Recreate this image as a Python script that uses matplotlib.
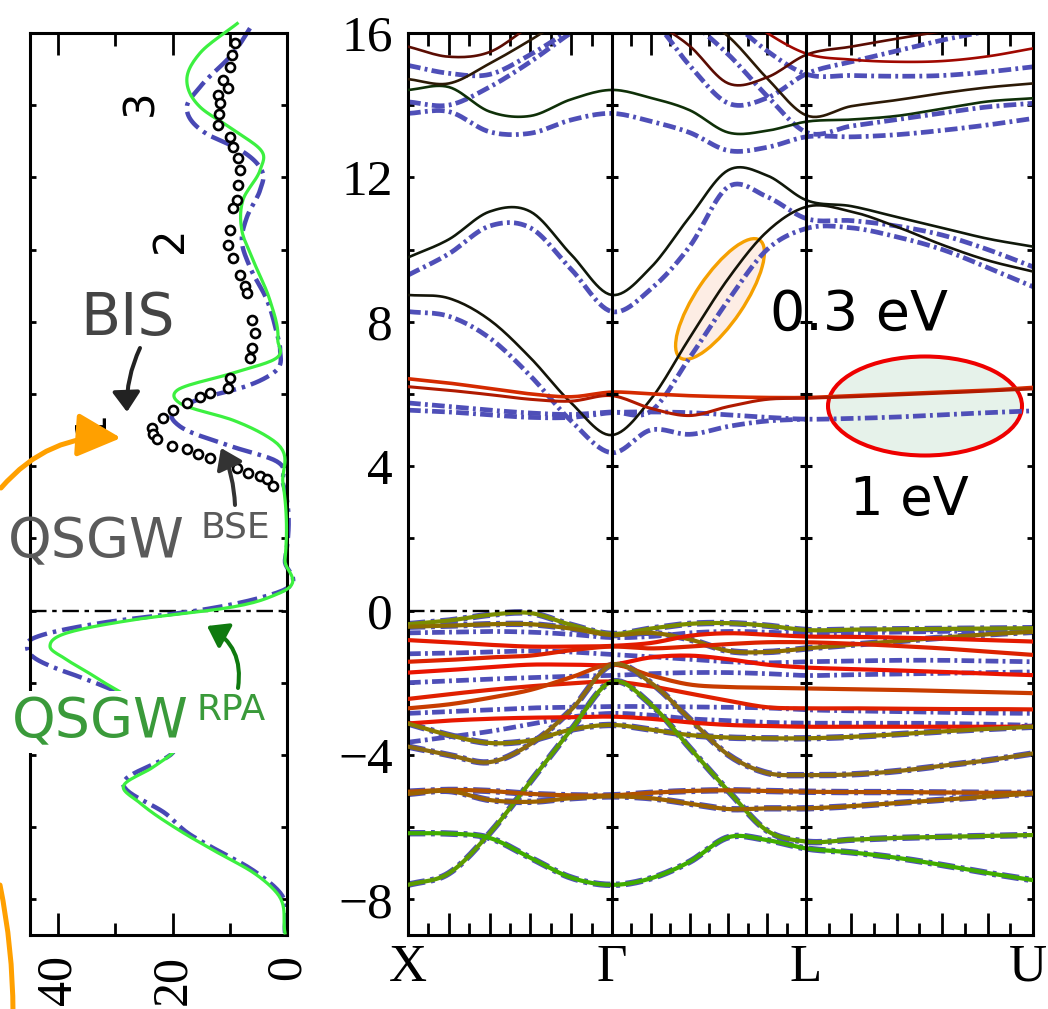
import numpy as np
import matplotlib
matplotlib.use("Agg")
import matplotlib.pyplot as plt
from matplotlib.patches import Ellipse, FancyArrowPatch
from matplotlib.transforms import IdentityTransform, ScaledTranslation

# ---------------- band structure data (eV), read at k nodes X-Γ-L-U ----------------
k_nodes = [0, .2, .4, .6, .8, 1, 1.2, 1.4, 1.6, 1.8, 2, 2.2, 2.4, 2.6, 2.8, 3]  # segment units
sym_labels = ["X", "Γ", "L", "U"]
sym_dist = [0.0, 1.0, 1.951, 3.064]  # path length at X, Γ, L, U

nan = np.nan
# QSGW^BSE conduction bands (solid)
c_a = [8.74, 8.65, 8.05, 7.0, 5.75, 4.86, 5.85, 7.55, 9.2, 10.5, 11.18, 11.05, 10.63, 10.13, 9.7, 9.39]
c_b = [9.78, 10.28, 11.05, 11.05, 9.86, 8.74, 9.5, 10.9, 12.2, 12.05, 11.37, 11.2, 10.9, 10.6, 10.3, 10.08]
c_dg1 = [14.42, 14.5, 13.82, 13.7, 14.16, 14.42, 14.2, 13.86, 13.24, 13.29, 13.54, 13.6, 13.7, 13.9, 14.1, 14.19]
c_dg2 = [14.72, 14.6, 15.15, 15.8, 16.5, 17.0, 17.0, 16.6, 15.9, 14.74, 13.72, 13.97, 14.14, 14.33, 14.49, 14.6]
c_t1 = [15.62, 15.34, 15.47, 16.2, 16.9, 17.3, 16.4, 15.64, 14.6, 14.77, 15.39, 15.62, 15.84, 16.05, 16.3, 16.5]
c_t3 = [nan, nan, nan, nan, nan, nan, nan, nan, 16.8, 16.0, 15.43, 15.26, 15.2, 15.22, 15.35, 15.57]
c_f1 = [6.42, 6.3, 6.15, 6.0, 5.92, 6.05, 6.0, 5.95, 5.92, 5.9, 5.9, 5.95, 6.0, 6.05, 6.1, 6.18]
c_f2 = [6.2, 6.1, 5.98, 5.85, 5.8, 5.95, 5.6, 5.4, 5.65, 5.85, 5.88, 5.92, 5.97, 6.02, 6.08, 6.14]

# QSGW^RPA conduction bands (dash-dot)
r_a = [8.28, 8.15, 7.55, 6.5, 5.25, 4.37, 5.0, 4.88, 5.1, 5.25, 5.3, nan, nan, nan, nan, nan]
r_f1 = [5.75, 5.65, 5.55, 5.47, 5.43, 5.5, 5.52, 7.0, 8.6, 10.0, 10.58, 10.6, 10.35, 10.0, 9.5, 8.97]
r_f2 = [5.55, 5.5, 5.42, 5.35, 5.35, 5.48, 5.5, 5.48, 5.42, 5.35, 5.3, 5.32, 5.36, 5.42, 5.48, 5.53]
r_b = [9.29, 9.88, 10.65, 10.6, 9.45, 8.28, 8.9, 10.08, 11.74, 11.46, 10.86, 10.8, 10.65, 10.4, 10.0, 9.52]
r_dg1 = [13.77, 13.82, 13.26, 13.22, 13.59, 13.77, 13.55, 13.24, 12.74, 12.83, 13.12, 13.12, 13.18, 13.3, 13.45, 13.63]
r_dg2 = [14.09, 14.0, 14.5, 15.2, 16.0, 16.6, 16.8, 16.3, 15.4, 14.25, 13.25, 13.42, 13.6, 13.78, 13.95, 14.05]
r_t1 = [15.1, 14.88, 14.85, 15.4, 16.1, 16.8, 16.4, 15.1, 14.05, 14.2, 14.86, 15.2, 15.5, 15.8, 16.05, 16.3]
r_t3 = [nan, nan, nan, nan, nan, nan, nan, nan, 16.4, 15.5, 14.86, 14.82, 14.8, 14.82, 14.92, 15.06]

# valence bands (solid, RPA dash-dot lies underneath the dispersive ones)
v_1 = [-0.38, -0.28, -0.12, -0.07, -0.4, -0.65, -0.5, -0.37, -0.35, -0.42, -0.54, -0.53, -0.52, -0.51, -0.5, -0.49]
v_2 = [-0.45, -0.42, -0.38, -0.38, -0.5, -0.68, -0.62, -0.8, -1.12, -1.15, -1.05, -0.95, -0.85, -0.75, -0.66, -0.59]
v_r1 = [-0.82, -0.88, -0.95, -1.0, -1.0, -0.98, -0.9, -0.7, -0.63, -0.67, -0.72, -0.73, -0.75, -0.78, -0.82, -0.86]
v_r2 = [-1.42, -1.37, -1.3, -1.25, -1.1, -1.0, -1.05, -1.0, -0.93, -0.88, -0.88, -0.92, -0.98, -1.05, -1.14, -1.23]
v_r3 = [-1.72, -1.65, -1.57, -1.5, -1.5, -1.5, -1.3, -1.25, -1.35, -1.5, -1.58, -1.62, -1.66, -1.7, -1.75, -1.79]
v_r4 = [-2.45, -2.32, -2.2, -2.1, -2.02, -1.97, -2.1, -2.3, -2.5, -2.68, -2.71, -2.71, -2.72, -2.73, -2.73, -2.74]
v_r5 = [-2.71, -2.6, -2.42, -2.2, -1.85, -1.5, -1.8, -2.05, -2.12, -2.14, -2.16, -2.18, -2.2, -2.23, -2.26, -2.29]
v_6 = [-3.77, -4.0, -4.2, -3.7, -2.75, -1.5, -2.0, -3.0, -4.0, -4.5, -4.56, -4.54, -4.45, -4.3, -4.15, -3.96]
v_r7 = [-3.13, -3.05, -3.0, -2.97, -2.96, -2.94, -3.0, -3.1, -3.17, -3.2, -3.22, -3.22, -3.22, -3.22, -3.22, -3.22]
v_8 = [-3.13, -3.45, -3.67, -3.6, -3.3, -3.17, -3.3, -3.45, -3.52, -3.54, -3.54, -3.5, -3.43, -3.35, -3.28, -3.22]
v_g = [-7.6, -7.28, -6.17, -4.74, -3.3, -1.97, -2.6, -3.8, -5.0, -6.1, -6.4, -6.35, -6.3, -6.27, -6.24, -6.22]
v_gl = [-6.17, -6.18, -6.3, -6.85, -7.4, -7.6, -7.42, -6.96, -6.28, -6.36, -6.59, -6.7, -6.85, -7.05, -7.27, -7.47]
v_b1 = [-5.02, -4.97, -5.0, -5.08, -5.12, -5.12, -5.05, -5.0, -4.98, -5.0, -5.02, -5.03, -5.03, -5.04, -5.05, -5.05]
v_b2 = [-5.08, -5.0, -5.25, -5.3, -5.2, -5.15, -5.2, -5.35, -5.5, -5.48, -5.48, -5.42, -5.33, -5.24, -5.15, -5.07]
# RPA-only 4f valence levels (dash-dot)
rv_1 = [-0.62, -0.6, -0.58, -0.6, -0.66, -0.75, -0.72, -0.62, -0.58, -0.6, -0.65, -0.62, -0.6, -0.58, -0.56, -0.54]
rv_2 = [-1.2, -1.18, -1.15, -1.12, -1.15, -1.22, -1.28, -1.35, -1.42, -1.45, -1.42, -1.4, -1.38, -1.38, -1.4, -1.42]
rv_3 = [-2.0, -1.95, -1.9, -1.86, -1.82, -1.8, -1.75, -1.72, -1.72, -1.75, -1.8, -1.78, -1.76, -1.74, -1.72, -1.7]
rv_4 = [-2.85, -2.8, -2.75, -2.7, -2.68, -2.66, -2.66, -2.67, -2.68, -2.7, -2.75, -2.78, -2.8, -2.82, -2.84, -2.85]
rv_5 = [-3.65, -3.5, -3.35, -3.15, -2.95, -2.85, -2.9, -3.0, -3.05, -3.1, -3.12, -3.12, -3.12, -3.13, -3.15, -3.18]

# ---------------- DOS panel (states/eV vs energy) ----------------
dos_rpa_e = [16.27, 15.44, 14.5, 13.95, 13.2, 12.76, 12.1, 11.65, 10.9, 10.26, 9.52, 8.6, 7.69, 7.22,
             6.58, 6.22, 5.86, 5.5, 5.1, 4.53, 4.18, 3.52, 1.4, 0.49, 0.01, -0.35, -0.82, -1.0, -1.28,
             -1.65, -1.84, -3.93, -4.78, -5.65, -6.2, -6.48, -7.2, -7.82, -8.93]
dos_rpa = [5.9, 9.4, 15.2, 17.5, 14.0, 8.2, 4.2, 4.7, 7.0, 7.9, 6.5, 3.5, 1.8, 1.2,
           2.4, 7.0, 15.2, 19.9, 18.7, 9.4, 2.4, 0.7, 0.35, 1.8, 15.2, 32.7, 44.9, 45.4, 44.4,
           39.6, 36.2, 19.9, 28.6, 21.0, 17.0, 14.0, 5.9, 1.2, 0.35]
dos_bse_e = [16.26, 15.44, 14.7, 13.95, 13.32, 12.66, 12.2, 11.37, 10.54, 9.7, 8.6, 7.5, 6.94, 6.58,
             6.1, 5.74, 5.27, 4.71, 3.52, 1.4, 0.49, 0.1, -0.26, -0.62, -1.0, -1.37, -1.87,
             -3.93, -4.34, -4.88, -5.33, -6.16, -6.7, -7.26, -7.82, -8.93]
dos_bse = [8.7, 15.2, 17.5, 15.2, 9.4, 4.2, 4.7, 7.7, 7.9, 5.9, 3.0, 1.6, 2.4, 9.4,
           19.2, 18.7, 9.4, 2.4, 0.7, 0.35, 1.2, 9.4, 26.9, 38.4, 41.4, 38.4, 33.2,
           19.9, 23.4, 28.6, 25.7, 18.1, 12.2, 5.9, 1.8, 0.35]
bis_e = [15.71, 15.39, 15.06, 14.7, 14.47, 14.28, 14.05, 13.75, 13.44, 13.12, 12.85, 12.53, 12.2, 11.8,
         11.37, 11.14, 10.54, 10.12, 9.76, 9.29, 9.0, 8.79, 8.05, 7.69, 7.27, 6.99, 6.44, 6.16, 6.02,
         5.92, 5.74, 5.55, 5.33, 5.06, 4.9, 4.76, 4.57, 4.48, 4.34, 4.22, 3.95, 3.81, 3.73, 3.65, 3.46]
bis = [9.1, 9.6, 10.0, 11.2, 10.3, 12.0, 11.7, 11.8, 12.0, 10.0, 9.4, 8.5, 8.2, 8.5,
       8.7, 9.4, 10.0, 10.3, 9.4, 8.2, 7.3, 7.0, 6.1, 5.6, 6.1, 6.5, 10.0, 10.3, 13.5,
       15.2, 17.5, 19.9, 21.6, 23.6, 23.4, 22.7, 20.1, 17.5, 15.5, 13.5, 8.8, 6.8, 4.7, 3.5, 2.4]
inset_marks = ["3", "2", "1"]

# ---------------- helpers ----------------
W, H = 1048, 1009
SERIF = "Liberation Serif"
SANS = "DejaVu Sans"
plt.rcParams["font.family"] = SERIF
plt.rcParams["axes.unicode_minus"] = True

kd = np.interp(k_nodes, [0, 1, 2, 3], sym_dist)


def smooth(x, y, n=14):
    # cubic Hermite stroke through the read nodes (drawing only)
    x = np.asarray(x, float)
    y = np.asarray(y, float)
    if len(x) < 3:
        return x, y
    m = np.gradient(y, x)
    t = np.linspace(0, 1, n)[:-1]
    xs, ys = [], []
    for i in range(len(x) - 1):
        h = x[i + 1] - x[i]
        h00 = 2 * t**3 - 3 * t**2 + 1
        h10 = t**3 - 2 * t**2 + t
        h01 = -2 * t**3 + 3 * t**2
        h11 = t**3 - t**2
        xs.append(x[i] + t * h)
        ys.append(h00 * y[i] + h10 * h * m[i] + h01 * y[i + 1] + h11 * h * m[i + 1])
    xs.append([x[-1]])
    ys.append([y[-1]])
    return np.concatenate(xs), np.concatenate(ys)


def draw_band(ax, E, **kw):
    E = np.asarray(E, float)
    idx = np.where(np.isfinite(E))[0]
    for run in np.split(idx, np.where(np.diff(idx) > 1)[0] + 1):
        if len(run) < 2:
            continue
        xs, ys = smooth(kd[run], E[run])
        ax.plot(xs, ys, solid_capstyle="round", **kw)


def fxy(x, y):
    return x / W, 1 - y / H


BLUE = "#4f4fb8"
DASHDOT = (0, (2.7, 0.9, 0.6, 0.9))

fig = plt.figure(figsize=(W / 100, H / 100), dpi=100)
ax_d = fig.add_axes([30 / W, 1 - 935.4 / H, 257 / W, 902.5 / H])
ax = fig.add_axes([408 / W, 1 - 935.4 / H, 625 / W, 902.5 / H])

# ---------------- band panel ----------------
rpa_cond = [r_a, r_f1, r_f2, r_b, r_dg1, r_dg2, r_t1, r_t3]
for E in rpa_cond:
    draw_band(ax, E, color=BLUE, lw=3.4, ls=DASHDOT, zorder=2)
for E in [rv_1, rv_2, rv_3, rv_4, rv_5]:
    draw_band(ax, E, color=BLUE, lw=3.4, ls=DASHDOT, zorder=2)
for E in [v_1, v_2, v_6, v_8, v_g, v_gl, v_b1, v_b2]:
    draw_band(ax, E, color=BLUE, lw=4.6, ls=DASHDOT, zorder=2)

bse_cond = [(c_a, "#141408", 1.9), (c_b, "#10180a", 1.9), (c_dg1, "#0f3008", 1.9),
            (c_dg2, "#2c1a06", 1.9), (c_t1, "#5a0c02", 1.9), (c_t3, "#a00800", 1.9),
            (c_f1, "#d42a00", 2.6), (c_f2, "#b01a00", 2.2)]
for E, col, lw in bse_cond:
    draw_band(ax, E, color=col, lw=lw, zorder=3)

bse_val = [(v_1, "#7a8c00"), (v_2, "#8c6e00"), (v_r1, "#e41a00"), (v_r2, "#dc2200"),
           (v_r3, "#ea1400"), (v_r4, "#e02000"), (v_r5, "#c83c00"), (v_6, "#8c6a10"),
           (v_r7, "#e81800"), (v_8, "#8a7a00"), (v_g, "#5c9c00"), (v_gl, "#40ac00"),
           (v_b1, "#b25200"), (v_b2, "#9c6200")]
for E, col in bse_val:
    draw_band(ax, E, color=col, lw=3.0, zorder=3)

for xv in sym_dist[1:3]:
    ax.axvline(xv, color="k", lw=2.2, zorder=4)
    yt = np.arange(-8, 17, 2)
    ax.plot(np.full(len(yt), xv), yt, ls="none", marker="_", ms=8, mew=2.2, color="k", zorder=4)
ax.axhline(0, color="k", lw=1.7, ls=(0, (7, 2.4, 1.9, 2.4)), zorder=4)

ax.set_xlim(sym_dist[0], sym_dist[-1])
ax.set_ylim(-9, 16)
major_x, minor_x = [], []
for a, b in zip(sym_dist[:-1], sym_dist[1:]):
    for j in range(10):
        (major_x if j % 2 == 0 else minor_x).append(a + (b - a) * j / 10)
major_x.append(sym_dist[-1])
xlab = [""] * len(major_x)
for i, s in enumerate(sym_labels):
    xlab[i * 5] = s
ax.set_xticks(major_x, xlab)
ax.set_xticks(minor_x, minor=True)
ax.tick_params(axis="x", which="major", direction="in", length=16, width=2, top=True,
               pad=6, labelsize=38)
ax.tick_params(axis="x", which="minor", direction="in", length=9, width=2, top=True)
# keep the last label (U) inside the canvas
last = ax.get_xticklabels()[-1]
last.set_transform(last.get_transform() + ScaledTranslation(-5 / 100, 0, fig.dpi_scale_trans))
ax.set_yticks(np.arange(-8, 17, 4))
ax.set_yticks(np.arange(-8, 17, 2), minor=True)
ax.tick_params(axis="y", which="both", direction="in", length=4, width=2, left=True,
               right=True, pad=11, labelsize=37)
for sp in ax.spines.values():
    sp.set_linewidth(2.2)

# highlighted regions
ax.add_artist(Ellipse((720, H - 299), 142, 48, angle=56, transform=IdentityTransform(),
                      facecolor="#fdede4", edgecolor="#f5a000", lw=2.4, zorder=1))
ax.add_artist(Ellipse((925, H - 406), 194, 99, angle=0, transform=IdentityTransform(),
                      facecolor="#e6f2ea", edgecolor="#ee0000", lw=2.9, zorder=1))
fig.text(*fxy(770, 330), "0.3 eV", fontsize=40, family=SANS, ha="left", va="baseline")
fig.text(*fxy(850, 515), "1 eV", fontsize=38, family=SANS, ha="left", va="baseline")

# ---------------- DOS panel ----------------
e_s, d_s = smooth(dos_rpa_e[::-1], dos_rpa[::-1])
ax_d.plot(d_s, e_s, color="#4848b4", lw=3.2, ls=(0, (4.5, 1.35, 0.8, 1.35)), zorder=2, clip_on=False)
e_s, d_s = smooth(dos_bse_e[::-1], dos_bse[::-1])
ax_d.plot(d_s, e_s, color="#3cf040", lw=2.3, zorder=3, clip_on=False)
ax_d.plot(bis, bis_e, ls="none", marker="o", ms=6.5, mfc="white", mec="black", mew=1.9, zorder=4)
ax_d.axhline(0, color="k", lw=1.7, ls=(0, (7, 2.4, 1.9, 2.4)), zorder=1)

ax_d.set_xlim(44.9, 0)
ax_d.set_ylim(-9, 16)
ax_d.set_xticks([0, 20, 40], ["0", "20", "40"], rotation=90)
ax_d.set_xticks([10, 30], minor=True)
ax_d.tick_params(axis="x", which="major", direction="in", length=16, width=2, top=True,
                 pad=14, labelsize=36)
ax_d.tick_params(axis="x", which="minor", direction="in", length=9, width=2, top=True)
ax_d.set_yticks(np.arange(-8, 17, 2))
ax_d.tick_params(axis="y", direction="in", length=4, width=2, left=True, right=True,
                 labelleft=False)
for sp in ax_d.spines.values():
    sp.set_linewidth(2.2)

for s, (x, y) in zip(inset_marks, [(140, 103), (170, 240), (90, 423)]):
    fig.text(*fxy(x, y), s, fontsize=30, family=SANS, rotation=90, ha="center", va="center")

# labels and arrows
fig.text(*fxy(80, 335), "BIS", fontsize=42, family=SANS, color="#444444", va="baseline")
fig.text(*fxy(8, 557), "QSGW", fontsize=40, family=SANS, color="#5a5a5a", va="baseline")
fig.text(*fxy(200, 538), "BSE", fontsize=26, family=SANS, color="#5a5a5a", va="baseline")
fig.text(*fxy(12, 737), "QSGW", fontsize=40, family=SANS, color="#3a9a3a", va="baseline",
         bbox=dict(facecolor="white", edgecolor="none", pad=3), zorder=5)
fig.text(*fxy(197, 720), "RPA", fontsize=26, family=SANS, color="#3a9a3a", va="baseline",
         bbox=dict(facecolor="white", edgecolor="none", pad=1), zorder=5)


def arrow(p0, p1, col, rad, lw, ms, hl, hw):
    fig.add_artist(FancyArrowPatch((p0[0], H - p0[1]), (p1[0], H - p1[1]), transform=IdentityTransform(),
                                   arrowstyle=f"-|>,head_length={hl},head_width={hw}",
                                   connectionstyle=f"arc3,rad={rad}", color=col, lw=lw,
                                   mutation_scale=ms, shrinkA=0, shrinkB=0, zorder=6))


arrow((140, 348), (127, 412), "#222222", 0.12, 2.9, 20, 0.6, 0.42)
arrow((235, 505), (221, 448), "#333333", 0.1, 2.9, 20, 0.6, 0.42)
arrow((238, 688), (207, 626), "#0f7a0f", 0.35, 2.9, 20, 0.6, 0.42)
arrow((1, 488), (121, 438), "#ffa000", -0.25, 3.6, 30, 0.9, 0.45)
fig.add_artist(FancyArrowPatch((0, H - 885), (13, -3), transform=IdentityTransform(),
                               arrowstyle="-", connectionstyle="arc3,rad=-0.05", color="#ffa000",
                               lw=3.6, shrinkA=0, shrinkB=0))

fig.savefig("out.png", dpi=100, facecolor="white")
